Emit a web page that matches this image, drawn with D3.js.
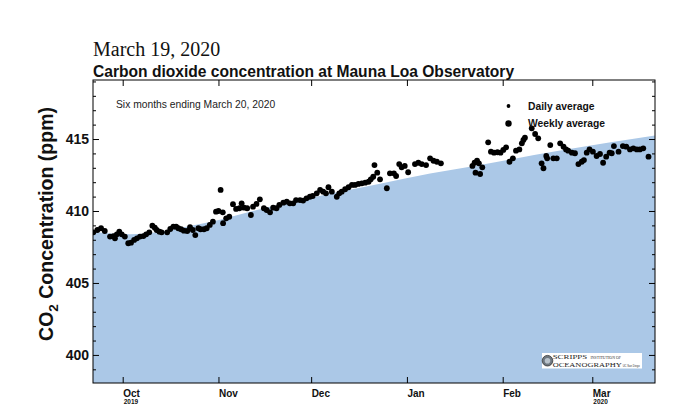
<!DOCTYPE html>
<html>
<head>
<meta charset="utf-8">
<script src="https://cdn.jsdelivr.net/npm/d3@7"></script>
<style>
body { margin: 0; background: #fff; }
svg { display: block; font-family: "Liberation Sans", Arial, sans-serif; }
</style>
</head>
<body>
<div id="chart"></div>
<script>
const width = 700;
const height = 420;
const margin = {top: 80, right: 45, bottom: 37, left: 93};

// days counted from Sept 21, 2019
const seriesStart = new Date(2019, 8, 21);
const xDomainDays = [0.39, 182.3];
const yDomain = [398.05, 419.1];
const yMajor = [400, 405, 410, 415];

const dailyDay = [0.5, 1.8, 3.0, 4.2, 5.9, 7.0, 7.5, 8.1, 8.9, 9.7, 10.7, 11.8, 12.7, 13.7, 14.6, 15.6,
    16.7, 17.6, 18.6, 19.6, 20.4, 21.0, 21.9, 22.6, 24.4, 25.4, 26.4, 27.3, 28.0, 28.9, 29.8, 30.9,
    31.8, 32.7, 33.5, 34.5, 35.2, 36.3, 37.2, 38.2, 39.2, 40.2, 41.0, 41.7, 42.4, 42.5, 43.5, 44.5,
    45.7, 46.7, 47.8, 48.5, 49.3, 50.3, 51.5, 52.2, 53.3, 54.4, 55.7, 56.6, 57.7, 58.7, 59.8, 60.7,
    62.0, 63.1, 64.1, 65.2, 66.1, 67.4, 68.4, 69.5, 70.6, 71.5, 72.8, 73.9, 74.9, 75.8, 76.6, 77.7,
    79.3, 80.1, 80.9, 82.0, 83.1, 84.2, 85.2, 86.3, 87.4, 88.5, 89.6, 90.3, 91.1, 91.5, 92.4, 93.3,
    95.5, 96.5, 97.8, 98.5, 99.5, 100.3, 101.3, 102.4, 104.6, 105.7, 106.8, 108.2, 109.5, 110.6, 111.7, 113.0,
    123.2, 123.9, 124.2, 124.7, 125.3, 125.7, 126.4, 128.3, 129.2, 130.2, 131.3, 132.3, 133.2, 134.1, 135.2, 136.3,
    137.3, 138.4, 139.2, 139.7, 140.2, 142.4, 143.5, 144.5, 145.6, 146.2, 147.1, 147.4, 148.4, 149.4, 150.5, 151.6,
    152.7, 153.5, 154.2, 155.4, 156.4, 157.5, 158.6, 159.3, 160.2, 161.1, 162.2, 163.4, 164.5, 165.5, 166.5, 167.6,
    168.3, 169.0, 170.5, 171.9, 173.0, 174.2, 175.3, 176.4, 177.4, 178.5, 180.2];

const dailyPpm = [408.52, 408.68, 408.80, 408.61, 408.22, 408.26, 408.10, 408.38, 408.56, 408.38, 408.22, 407.76, 407.80, 407.99, 408.10, 408.22,
    408.26, 408.38, 408.52, 408.98, 408.84, 408.68, 408.56, 408.52, 408.52, 408.75, 408.91, 408.91, 408.80, 408.73, 408.63, 408.61,
    408.87, 408.68, 408.33, 408.80, 408.73, 408.73, 408.80, 409.03, 409.26, 409.95, 410.00, 411.46, 409.91, 409.15, 409.49, 409.60,
    410.47, 410.14, 410.19, 410.53, 410.23, 410.19, 409.72, 410.30, 410.49, 410.81, 410.19, 410.07, 409.91, 410.23, 410.19, 410.42,
    410.58, 410.65, 410.53, 410.53, 410.76, 410.76, 410.72, 410.88, 410.99, 411.04, 411.23, 411.46, 411.34, 411.23, 411.65, 411.34,
    410.99, 411.23, 411.34, 411.51, 411.65, 411.81, 411.81, 411.88, 411.92, 411.97, 412.03, 412.20, 412.38, 413.19, 412.66, 412.20,
    411.58, 412.62, 412.62, 412.43, 413.26, 413.03, 413.13, 412.69, 413.26, 413.35, 413.26, 413.19, 413.66, 413.49, 413.42, 413.31,
    413.13, 413.35, 412.66, 413.49, 413.31, 412.57, 413.03, 414.77, 414.12, 414.05, 414.08, 414.05, 414.24, 414.42, 413.42, 413.66,
    414.19, 414.28, 414.70, 414.93, 415.09, 415.74, 415.35, 415.05, 413.31, 412.97, 413.82, 413.66, 414.58, 413.66, 413.66, 414.70,
    414.47, 414.28, 414.19, 414.05, 414.01, 413.26, 413.42, 413.54, 414.05, 414.28, 414.12, 413.82, 413.96, 413.35, 413.77, 414.05,
    414.01, 414.51, 414.12, 414.51, 414.47, 414.28, 414.35, 414.28, 414.28, 414.35, 413.77];

// smooth curve under the points (blue fill)
const trendDay = [0.39, 12.4, 22.1, 31.8, 41.5, 51.2, 60.9, 77.1, 93.3, 109.5, 125.7, 151.6, 182.3];
const trendPpm = [408.55, 408.38, 408.55, 408.95, 409.4, 409.95, 410.45, 411.2, 411.9, 412.6, 413.2, 414.2, 415.25];

const toDate = d => new Date(+seriesStart + d * 864e5);

const innerW = width - margin.left - margin.right;
const innerH = height - margin.top - margin.bottom;

const svg = d3.select("#chart").append("svg")
    .attr("width", width)
    .attr("height", height);

const x = d3.scaleTime()
    .domain(xDomainDays.map(toDate))
    .range([margin.left, margin.left + innerW]);

const y = d3.scaleLinear()
    .domain(yDomain)
    .range([margin.top + innerH, margin.top]);

svg.append("clipPath").attr("id", "plot-clip")
    .append("rect")
    .attr("x", margin.left).attr("y", margin.top)
    .attr("width", innerW).attr("height", innerH);

// titles
svg.append("text")
    .attr("x", 93).attr("y", 56)
    .style("font-family", "'Liberation Serif', 'Times New Roman', serif")
    .style("font-size", "20px")
    .attr("fill", "#111")
    .text("March 19, 2020");

svg.append("text")
    .attr("x", 93).attr("y", 76.5)
    .style("font-size", "15.6px")
    .style("font-weight", "bold")
    .attr("fill", "#111")
    .text("Carbon dioxide concentration at Mauna Loa Observatory");

// trend fill
const trend = trendDay.map((d, i) => ({date: toDate(d), ppm: trendPpm[i]}));
const area = d3.area()
    .x(d => x(d.date))
    .y0(y(yDomain[0]))
    .y1(d => y(d.ppm))
    .curve(d3.curveMonotoneX);

svg.append("path")
    .datum(trend)
    .attr("clip-path", "url(#plot-clip)")
    .attr("fill", "#abc8e7")
    .attr("d", area);

// daily points
const daily = dailyDay.map((d, i) => ({date: toDate(d), ppm: dailyPpm[i]}));
svg.append("g")
    .attr("clip-path", "url(#plot-clip)")
    .selectAll("circle")
    .data(daily)
    .join("circle")
    .attr("cx", d => x(d.date))
    .attr("cy", d => y(d.ppm))
    .attr("r", 2.9)
    .attr("fill", "#000");

// axes
const months = x.ticks(d3.timeMonth.every(1));
const minorY = d3.range(399, 420).filter(v => !yMajor.includes(v));

function styleAxis(g) {
    g.select(".domain").remove();
    g.selectAll(".tick line").attr("stroke", "#000");
}

svg.append("g")
    .attr("transform", `translate(${margin.left},0)`)
    .call(d3.axisLeft(y).tickValues(yMajor).tickSize(-6).tickPadding(4).tickFormat(d3.format("d")))
    .call(styleAxis)
    .call(g => g.selectAll("text")
        .style("font-size", "14px").style("font-weight", "bold")
        .style("font-family", "'Liberation Sans', Arial, sans-serif").attr("fill", "#111"));

svg.append("g")
    .attr("transform", `translate(${margin.left},0)`)
    .call(d3.axisLeft(y).tickValues(minorY).tickSize(-3).tickFormat(""))
    .call(styleAxis);

svg.append("g")
    .attr("transform", `translate(${margin.left + innerW},0)`)
    .call(d3.axisRight(y).tickValues(yMajor).tickSize(-6).tickFormat(""))
    .call(styleAxis);

svg.append("g")
    .attr("transform", `translate(${margin.left + innerW},0)`)
    .call(d3.axisRight(y).tickValues(minorY).tickSize(-3).tickFormat(""))
    .call(styleAxis);

svg.append("g")
    .attr("transform", `translate(0,${margin.top})`)
    .call(d3.axisTop(x).tickValues(months).tickSize(-6).tickFormat(""))
    .call(styleAxis);

const bottom = svg.append("g")
    .attr("transform", `translate(0,${margin.top + innerH})`)
    .call(d3.axisBottom(x).tickValues(months).tickSize(-6).tickFormat(""))
    .call(styleAxis);

bottom.selectAll(".tick").each(function(d, i) {
    const t = d3.select(this);
    t.append("text")
        .attr("x", 0).attr("y", 14)
        .attr("text-anchor", "start")
        .attr("fill", "#111")
        .style("font-size", "10px").style("font-weight", "bold")
        .text(d3.timeFormat("%b")(d));
    if (i === 0 || i === months.length - 1) {
        t.append("text")
            .attr("x", 0.5).attr("y", 20.5)
            .attr("text-anchor", "start")
            .attr("fill", "#111")
            .style("font-size", "6.5px").style("font-weight", "bold")
            .text(d3.timeFormat("%Y")(d));
    }
});

// frame
svg.append("rect")
    .attr("x", margin.left).attr("y", margin.top)
    .attr("width", innerW).attr("height", innerH)
    .attr("fill", "none").attr("stroke", "#000").attr("stroke-width", 1);

// y label
const yLabel = svg.append("text")
    .attr("transform", `translate(53,224) rotate(-90)`)
    .attr("text-anchor", "middle")
    .attr("fill", "#111")
    .style("font-size", "19.5px").style("font-weight", "bold");
yLabel.append("tspan").text("CO");
yLabel.append("tspan").attr("dy", 5).style("font-size", "13.5px").text("2");
yLabel.append("tspan").attr("dy", -5).text(" Concentration (ppm)");

// notes and legend
svg.append("text")
    .attr("x", 116).attr("y", 107.5)
    .attr("fill", "#222")
    .style("font-size", "10.3px")
    .text("Six months ending March 20, 2020");

const legendItems = [
    {label: "Daily average", r: 1.9, y: 106},
    {label: "Weekly average", r: 3.2, y: 123.5}
];
const legend = svg.append("g");
legend.selectAll("circle").data(legendItems).join("circle")
    .attr("cx", 508.5).attr("cy", d => d.y).attr("r", d => d.r).attr("fill", "#000");
legend.selectAll("text").data(legendItems).join("text")
    .attr("x", 528).attr("y", d => d.y + 3.6)
    .attr("fill", "#111")
    .style("font-size", "10.3px").style("font-weight", "bold")
    .text(d => d.label);

// institution logo
const logo = svg.append("g");
logo.append("rect")
    .attr("x", 542).attr("y", 353).attr("width", 100).attr("height", 15.5)
    .attr("fill", "#fff");
logo.append("circle").attr("cx", 547.5).attr("cy", 360.7).attr("r", 5.3)
    .attr("fill", "#6d7780").attr("stroke", "#333").attr("stroke-width", 0.8);
logo.append("circle").attr("cx", 547.5).attr("cy", 360.7).attr("r", 2.8)
    .attr("fill", "#b9c3cc");
const serif = "'Liberation Serif', 'Times New Roman', serif";
logo.append("text").attr("x", 552.7).attr("y", 359)
    .attr("textLength", 34.5).attr("lengthAdjust", "spacingAndGlyphs")
    .style("font-family", serif).style("font-size", "6.6px").attr("fill", "#222")
    .text("SCRIPPS");
logo.append("text").attr("x", 590.5).attr("y", 358.6)
    .attr("textLength", 30.5).attr("lengthAdjust", "spacingAndGlyphs")
    .style("font-family", serif).style("font-size", "3.2px").attr("fill", "#333")
    .text("INSTITUTION OF");
logo.append("text").attr("x", 552.7).attr("y", 367.3)
    .attr("textLength", 69).attr("lengthAdjust", "spacingAndGlyphs")
    .style("font-family", serif).style("font-size", "6.6px").attr("fill", "#222")
    .text("OCEANOGRAPHY");
logo.append("text").attr("x", 622.7).attr("y", 366.8)
    .attr("textLength", 17).attr("lengthAdjust", "spacingAndGlyphs")
    .style("font-size", "3.2px").attr("fill", "#333")
    .text("UC San Diego");
</script>
</body>
</html>
